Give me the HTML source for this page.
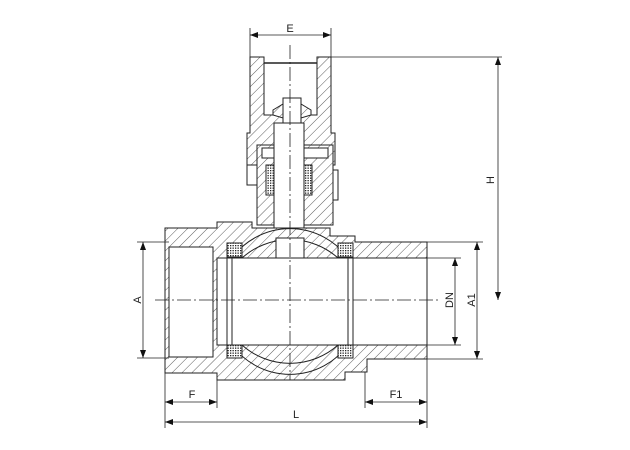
<!DOCTYPE html>
<html><head><style>html,body{margin:0;padding:0;background:#fff;width:630px;height:450px;overflow:hidden}</style></head>
<body>
<svg width="630" height="450" viewBox="0 0 630 450" xmlns="http://www.w3.org/2000/svg" font-family="Liberation Sans, sans-serif">
<defs>
<pattern id="h" patternUnits="userSpaceOnUse" width="7" height="7" patternTransform="rotate(45)">
<rect width="7" height="7" fill="#fff"/><line x1="0" y1="0" x2="0" y2="7" stroke="#333" stroke-width="0.8"/></pattern>
<pattern id="x" patternUnits="userSpaceOnUse" width="2.5" height="2.5">
<rect width="2.5" height="2.5" fill="#fff"/><rect width="1.3" height="1.3" fill="#222"/></pattern>
<marker id="a" markerWidth="8" markerHeight="6" refX="8" refY="3" orient="auto-start-reverse" markerUnits="userSpaceOnUse"><path d="M0,0 L8,3 L0,6z" fill="#111"/></marker>
</defs>
<g stroke="#222" stroke-width="1" fill="none">
<!-- handle -->
<path d="M250,57 H264 V115 H317 V57 H331 V133 H335 V165 H247 V133 H250Z" fill="url(#h)"/>
<line x1="264" y1="63" x2="317" y2="63" stroke-width="1.5"/>
<rect x="247" y="165" width="10" height="20" fill="#fff"/>
<rect x="283" y="98" width="18" height="25" fill="#fff"/>
<path d="M273,110 L283,104 V118 L273,115Z M311,110 L301,104 V118 L311,115Z" fill="url(#h)"/>
<!-- bonnet -->
<path d="M257,145 H333 V225 H257Z" fill="url(#h)"/>
<rect x="333" y="170" width="5" height="30" fill="#fff"/>
<rect x="262" y="148" width="66" height="10" fill="#fff"/>
<rect x="266" y="165" width="8" height="30" fill="url(#x)"/>
<rect x="304" y="165" width="8" height="30" fill="url(#x)"/>
<rect x="274" y="123" width="30" height="110" fill="#fff"/>
<!-- body -->
<path d="M165,228 H217 V222 H252 V228 H330 V236 H355 V242 H427 V359 H367 V372 H345 V380 H217 V373 H165Z" fill="url(#h)"/>
<rect x="169" y="247" width="44" height="110" fill="#fff"/>
<rect x="217" y="258" width="210" height="87" fill="#fff"/>
<path d="M232,258 A72,72 0 0 1 348,258 M232,345 A72,72 0 0 0 348,345"/>
<path d="M242,258 A72,72 0 0 1 338,258 M242,345 A72,72 0 0 0 338,345"/>
<rect x="276" y="238" width="28" height="20" fill="#fff"/>
<rect x="227" y="243" width="15" height="14" fill="url(#x)"/>
<rect x="338" y="243" width="15" height="14" fill="url(#x)"/>
<rect x="227" y="345" width="15" height="13" fill="url(#x)"/>
<rect x="338" y="345" width="15" height="13" fill="url(#x)"/>
<line x1="227" y1="258" x2="227" y2="345"/><line x1="232" y1="258" x2="232" y2="345"/>
<line x1="348" y1="258" x2="348" y2="345"/><line x1="353" y1="258" x2="353" y2="345"/>
<line x1="213" y1="247" x2="213" y2="357"/>
</g>
<g stroke="#222" stroke-width="0.8" stroke-dasharray="14,3,2,3">
<line x1="290" y1="45" x2="290" y2="380"/>
<line x1="155" y1="300" x2="440" y2="300"/>
</g>
<g stroke="#222" stroke-width="0.8" fill="none">
<line x1="250" y1="28" x2="250" y2="57"/><line x1="331" y1="28" x2="331" y2="57"/>
<line x1="250" y1="35" x2="331" y2="35" marker-start="url(#a)" marker-end="url(#a)"/>
<line x1="331" y1="57" x2="502" y2="57"/>
<line x1="498" y1="57" x2="498" y2="300" marker-start="url(#a)" marker-end="url(#a)"/>
<line x1="137" y1="242" x2="169" y2="242"/><line x1="137" y1="358" x2="169" y2="358"/>
<line x1="143" y1="242" x2="143" y2="358" marker-start="url(#a)" marker-end="url(#a)"/>
<line x1="427" y1="258" x2="461" y2="258"/><line x1="427" y1="345" x2="461" y2="345"/>
<line x1="455" y1="258" x2="455" y2="345" marker-start="url(#a)" marker-end="url(#a)"/>
<line x1="427" y1="242" x2="483" y2="242"/><line x1="427" y1="359" x2="483" y2="359"/>
<line x1="477" y1="242" x2="477" y2="359" marker-start="url(#a)" marker-end="url(#a)"/>
<line x1="165" y1="373" x2="165" y2="428"/><line x1="217" y1="380" x2="217" y2="408"/>
<line x1="365" y1="372" x2="365" y2="408"/><line x1="427" y1="359" x2="427" y2="428"/>
<line x1="165" y1="402" x2="217" y2="402" marker-start="url(#a)" marker-end="url(#a)"/>
<line x1="365" y1="402" x2="427" y2="402" marker-start="url(#a)" marker-end="url(#a)"/>
<line x1="165" y1="422" x2="427" y2="422" marker-start="url(#a)" marker-end="url(#a)"/>
</g>
<g font-size="11" fill="#222" text-anchor="middle">
<text x="290" y="32">E</text>
<text x="192" y="398">F</text>
<text x="396" y="398">F1</text>
<text x="296" y="418">L</text>
<text transform="translate(494,180) rotate(-90)">H</text>
<text transform="translate(141,300) rotate(-90)">A</text>
<text transform="translate(453,300) rotate(-90)">DN</text>
<text transform="translate(475,300) rotate(-90)">A1</text>
</g>
</svg>
</body></html>
